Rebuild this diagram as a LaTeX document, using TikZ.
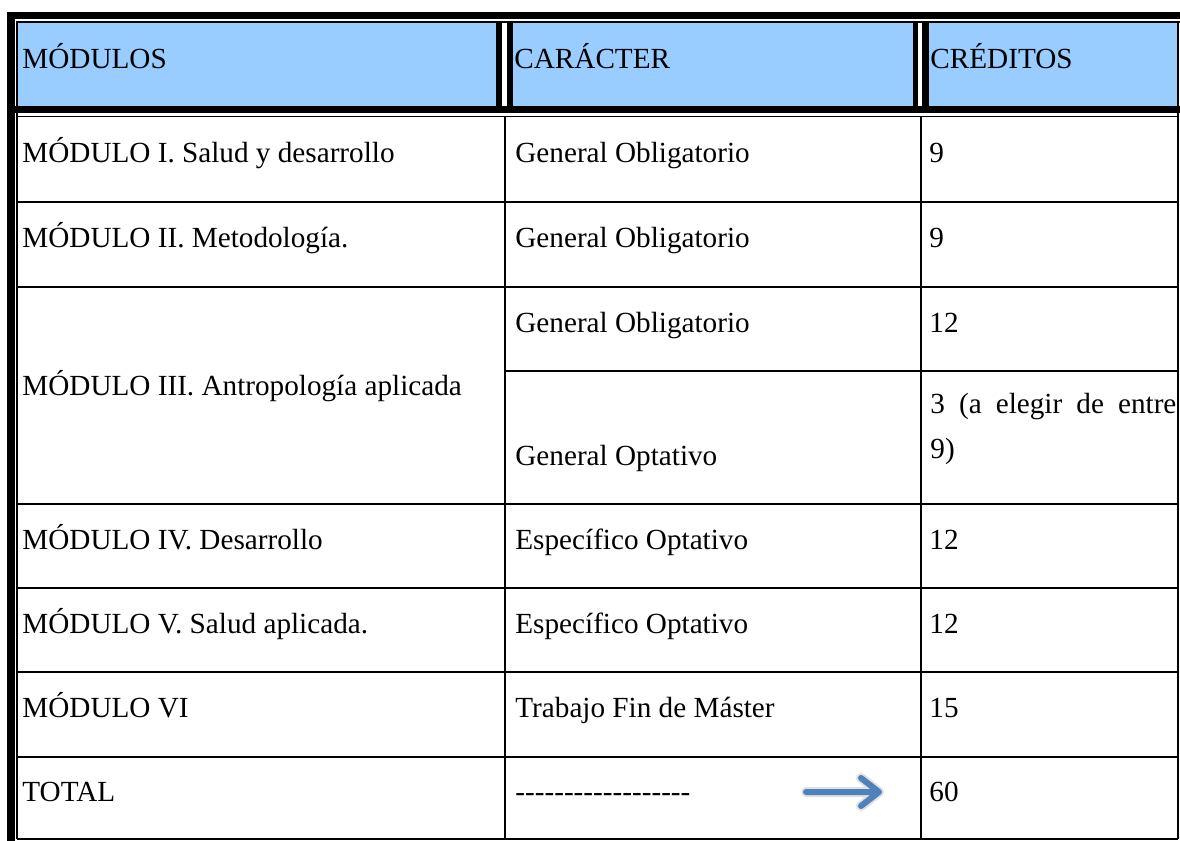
\documentclass[tikz,border=0pt]{standalone}
\usepackage{fontspec}
\setmainfont{Liberation Serif}
\definecolor{hdrblue}{RGB}{153,204,255}
\definecolor{arrblue}{RGB}{79,129,189}
\begin{document}
\begin{tikzpicture}[x=0.5pt,y=-0.5pt,
  cell/.style={anchor=base west, inner sep=0pt, font=\fontsize{14.6pt}{22.5pt}\selectfont},
  rule/.style={line width=1pt, black},
  arrowline/.style={arrblue, line width=3pt, line cap=round, line join=round}]
\useasboundingbox (0,0) rectangle (1180,841);
% header background
\fill[hdrblue] (18,22.7) rectangle (1177.3,106);
% top band and thin line
\fill[black] (7,12) rectangle (1180,19.3);
\fill[black] (16,21) rectangle (1180,22.7);
% left thick bar and inner thin line
\fill[black] (7,12) rectangle (15,841);
\fill[black] (16,21) rectangle (18,839);
% header bottom band and thin line
\fill[black] (15,106) rectangle (1180,113.3);
\fill[black] (16,115.7) rectangle (1179.3,117.3);
% header double separators
\fill[white] (502,22.7) rectangle (507,106);
\fill[black] (496,22.7) rectangle (502,106);
\fill[black] (507,22.7) rectangle (513,106);
\fill[white] (918,22.7) rectangle (922,106);
\fill[black] (913,22.7) rectangle (918,106);
\fill[black] (922,22.7) rectangle (929,106);
% right border
\fill[black] (1177.3,21) rectangle (1179.3,839);
% body grid
\draw[rule] (505,117) -- (505,839);
\draw[rule] (921,117) -- (921,839);
\draw[rule] (17,202) -- (1178,202);
\draw[rule] (17,287) -- (1178,287);
\draw[rule] (505,371) -- (1178,371);
\draw[rule] (17,504) -- (1178,504);
\draw[rule] (17,588) -- (1178,588);
\draw[rule] (17,672) -- (1178,672);
\draw[rule] (17,757) -- (1178,757);
\draw[rule] (17,838.5) -- (1178,838.5);
% header texts
\node[cell] (h1) at (22,68) {MÓDULOS};
\node[cell] (h2) at (514,68) {CARÁCTER};
\node[cell] (h3) at (930,68) {CRÉDITOS};
% row I
\node[cell] (m1) at (22,162) {MÓDULO I. Salud y desarrollo};
\node[cell] (c1) at (515,162) {General Obligatorio};
\node[cell] (k1) at (929,162) {9};
% row II
\node[cell] (m2) at (22,247) {MÓDULO II. Metodología.};
\node[cell] (c2) at (515,247) {General Obligatorio};
\node[cell] (k2) at (929,247) {9};
% row III
\node[cell] (m3) at (22,395) {MÓDULO III. Antropología aplicada};
\node[cell] (c3a) at (515,332) {General Obligatorio};
\node[cell] (k3a) at (929,332) {12};
\node[cell] (c3b) at (515,465) {General Optativo};
\node[cell] (k3b) at (930,413) {\makebox[123pt][s]{3 (a elegir de entre}};
\node[cell] (k3c) at (930,458) {9)};
% row IV
\node[cell] (m4) at (22,549) {MÓDULO IV. Desarrollo};
\node[cell] (c4) at (515,549) {Específico Optativo};
\node[cell] (k4) at (929,549) {12};
% row V
\node[cell] (m5) at (22,633) {MÓDULO V. Salud aplicada.};
\node[cell] (c5) at (515,633) {Específico Optativo};
\node[cell] (k5) at (929,633) {12};
% row VI
\node[cell] (m6) at (22,717) {MÓDULO VI};
\node[cell] (c6) at (515,717) {Trabajo Fin de Máster};
\node[cell] (k6) at (929,717) {15};
% total
\node[cell] (m7) at (22,801) {TOTAL};
\node[cell] (c7) at (515,801) {{-}{-}{-}{-}{-}{-}{-}{-}{-}{-}{-}{-}{-}{-}{-}{-}{-}{-}};
\node[cell] (k7) at (929,801) {60};
% arrow
\coordinate (as) at (806,792);
\coordinate (ae) at (879,792);
\coordinate (ah1) at (861,778);
\coordinate (ah2) at (861,806);
\begin{scope}[shift={(2,4)}]
\draw[arrowline, black, opacity=0.12, line width=5pt] (as) -- (ae) (ah1) -- (ae) -- (ah2);
\end{scope}
\draw[arrowline] (as) -- (ae) (ah1) -- (ae) -- (ah2);
\end{tikzpicture}
\end{document}
